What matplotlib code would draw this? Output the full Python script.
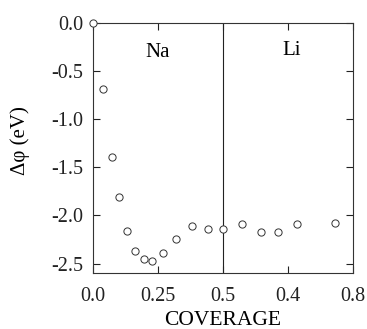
import matplotlib
matplotlib.use('Agg')
import matplotlib.pyplot as plt

plt.rcParams['font.family'] = ['Liberation Serif', 'DejaVu Serif']
plt.rcParams['axes.unicode_minus'] = False

# Na coverage (left half) and work-function change
na_cov = [0.0, 0.036, 0.073, 0.099, 0.130, 0.160, 0.194, 0.225, 0.269, 0.318, 0.379, 0.442, 0.5]
na_dphi = [0.0, -0.686, -1.39, -1.81, -2.163, -2.366, -2.456, -2.47, -2.39, -2.25, -2.105, -2.143, -2.14]

# Li coverage (right half, on top of 0.5 Na)
li_cov = [0.115, 0.234, 0.341, 0.456, 0.691]
li_dphi = [-2.087, -2.17, -2.17, -2.094, -2.077]

xtick_pos = [0.0, 0.25, 0.5, 0.75, 1.0]
xtick_labels = ['0.0', '0.25', '0.5', '0.4', '0.8']
yticks = [0.0, -0.5, -1.0, -1.5, -2.0, -2.5]

fig = plt.figure(figsize=(3.67, 3.29), dpi=100)
ax = fig.add_axes([0.254, 0.171, 0.707, 0.760])

# Li points are drawn on a twin axis whose 0 sits at the middle
ax_li = ax.twiny()
ax_li.set_xlim(-0.8, 0.8)
ax_li.set_xticks([])
for s in ax_li.spines.values():
    s.set_visible(False)

mk = dict(marker='o', linestyle='none', markersize=5.2, markerfacecolor='white',
          markeredgecolor='#333333', markeredgewidth=0.7, clip_on=False, zorder=5)
ax.plot(na_cov, na_dphi, **mk)
ax_li.plot(li_cov, li_dphi, **mk)

ax.axvline(0.5, color='#222222', lw=0.8, zorder=2)

ax.set_xlim(0, 1)
ax.set_ylim(-2.595, 0.0)
ax_li.set_ylim(-2.595, 0.0)
ax.set_xticks(xtick_pos)
ax.set_xticklabels(xtick_labels)
ax.set_yticks(yticks)
ax.set_yticklabels([f'{v:.1f}' for v in yticks])
ax.tick_params(direction='in', length=5, width=0.8, top=True, right=True,
               labelsize=14.5, colors='#222222')
ax.tick_params(axis='y', pad=7)
ax.tick_params(axis='x', pad=10)
for s in ax.spines.values():
    s.set_linewidth(0.8)
    s.set_color('#333333')

ax.set_xlabel('COVERAGE', fontsize=15.5, labelpad=4)
ax.set_ylabel('Δφ (eV)', fontsize=15)
ax.yaxis.set_label_coords(-0.245, 0.53)

ax.text(0.25, -0.31, 'Na', ha='center', va='center', fontsize=15)
ax.text(0.765, -0.29, 'Li', ha='center', va='center', fontsize=15)

fig.savefig('out.png', dpi=100)
